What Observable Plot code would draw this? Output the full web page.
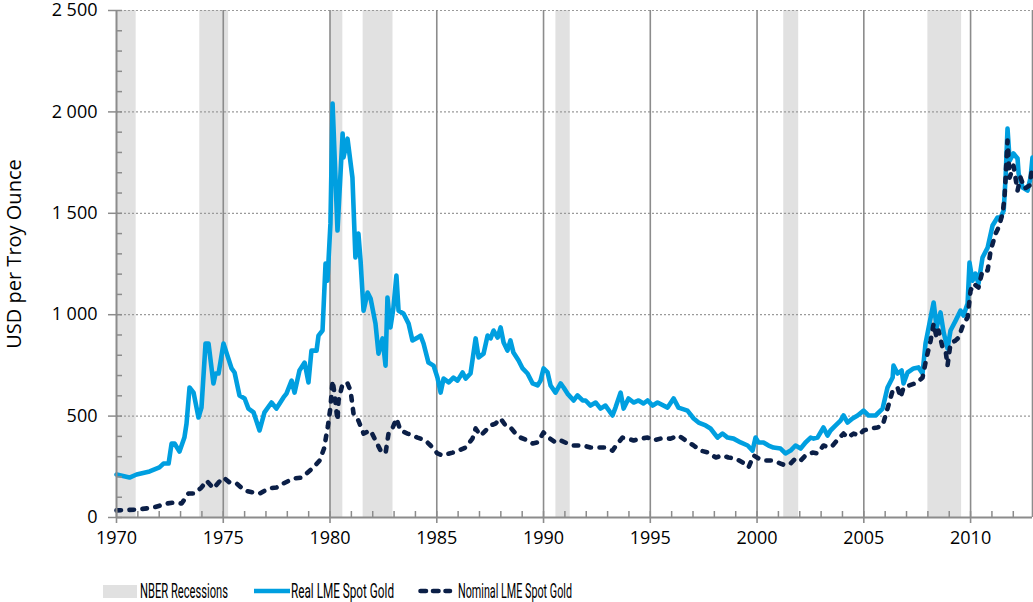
<!DOCTYPE html>
<html>
<head>
<meta charset="utf-8">
<script src="https://cdn.jsdelivr.net/npm/d3@7"></script>
<script src="https://cdn.jsdelivr.net/npm/@observablehq/plot@0.6"></script>
<style>
  html, body { margin: 0; padding: 0; background: #fff; }
  #wrap { position: relative; width: 1033px; height: 602px; overflow: hidden; }
  #legend { position: absolute; left: 0; top: 570px; width: 1033px; height: 32px; }
</style>
</head>
<body>
<div id="wrap">
  <div id="chart"></div>
  <div id="legend"></div>
</div>
<script>
// ---- data ----
const xMin = 1970, xMax = 2012.9;
const yTicks = [0, 500, 1000, 1500, 2000, 2500];
const yMinor = d3.range(0, 2501, 100);
const xTicks = [1970, 1975, 1980, 1985, 1990, 1995, 2000, 2005, 2010];
const xMinor = d3.range(1970, 2013, 1);
const xGrid = [1975, 1980, 1985, 1990, 1995, 2000, 2005, 2010];
const yGrid = [500, 1000, 1500, 2000, 2500];

const recessionStart = [1970.0, 1973.9, 1980.0, 1981.55, 1990.58, 2001.25, 2008.0];
const recessionEnd   = [1970.92, 1975.25, 1980.6, 1982.95, 1991.25, 2001.95, 2009.58];

const realYears = [1970.00,1970.61,1970.94,1971.55,1972.01,1972.20,1972.44,1972.58,1972.72,1972.95,1973.18,1973.28,1973.42,1973.61,1973.84,1973.98,1974.17,1974.31,1974.54,1974.64,1974.78,1975.01,1975.15,1975.39,1975.53,1975.76,1976.00,1976.18,1976.42,1976.70,1976.93,1977.26,1977.49,1977.82,1977.96,1978.20,1978.34,1978.57,1978.81,1978.99,1979.13,1979.37,1979.46,1979.65,1979.79,1979.88,1980.02,1980.12,1980.35,1980.59,1980.63,1980.82,1981.05,1981.19,1981.33,1981.43,1981.57,1981.76,1981.90,1982.13,1982.27,1982.46,1982.60,1982.69,1982.83,1982.97,1983.11,1983.21,1983.44,1983.68,1983.86,1984.10,1984.24,1984.38,1984.61,1984.85,1985.03,1985.18,1985.32,1985.56,1985.78,1985.97,1986.21,1986.35,1986.58,1986.82,1986.96,1987.19,1987.38,1987.52,1987.66,1987.85,1987.99,1988.13,1988.31,1988.45,1988.59,1988.83,1989.02,1989.25,1989.49,1989.72,1989.86,1990.00,1990.19,1990.33,1990.56,1990.80,1990.94,1991.12,1991.41,1991.59,1991.83,1991.97,1992.20,1992.44,1992.67,1992.90,1993.23,1993.37,1993.61,1993.75,1993.98,1994.22,1994.45,1994.68,1994.87,1995.11,1995.34,1995.81,1996.09,1996.32,1996.74,1997.03,1997.26,1997.59,1997.82,1998.15,1998.38,1998.62,1998.90,1999.23,1999.56,1999.79,1999.93,2000.07,2000.30,2000.54,2000.77,2001.10,2001.33,2001.57,2001.80,2002.04,2002.27,2002.51,2002.65,2002.83,2003.11,2003.30,2003.44,2003.68,2003.91,2004.05,2004.24,2004.47,2004.71,2004.99,2005.22,2005.55,2005.88,2006.11,2006.35,2006.39,2006.58,2006.77,2006.86,2007.05,2007.33,2007.56,2007.75,2007.89,2008.13,2008.27,2008.41,2008.59,2008.74,2008.92,2009.06,2009.30,2009.53,2009.67,2009.86,2009.95,2010.09,2010.23,2010.37,2010.56,2010.80,2011.03,2011.26,2011.41,2011.55,2011.64,2011.73,2011.83,2012.01,2012.20,2012.25,2012.44,2012.67,2012.81,2012.90];
const realValues = [212,197,212,227,247,266,266,365,365,325,394,463,641,616,493,542,858,858,661,710,710,858,813,735,715,602,587,537,518,429,518,567,537,592,611,675,616,725,764,666,823,823,897,922,1252,1168,1449,2041,1415,1893,1775,1868,1676,1282,1400,1267,1020,1109,1080,956,808,883,749,1085,937,1035,1193,1020,1006,956,873,887,897,858,764,749,690,616,685,666,690,675,715,685,710,883,789,808,897,883,922,887,937,863,823,873,813,774,735,710,661,651,675,735,715,651,616,661,641,611,577,602,577,577,552,567,537,552,503,542,616,537,587,567,577,562,577,552,567,542,587,542,527,488,468,454,439,394,414,394,389,370,355,330,394,370,370,355,345,340,316,330,355,340,370,394,389,394,444,404,429,454,478,503,468,488,503,527,503,503,537,641,690,749,710,725,661,715,735,740,710,858,986,1060,937,1011,912,833,922,971,1020,996,1055,1257,1168,1203,1153,1282,1331,1440,1479,1479,1514,1676,1918,1760,1795,1770,1696,1627,1612,1676,1775];

const nomYears = [1970.00,1970.94,1971.73,1972.35,1972.72,1973.05,1973.37,1973.65,1973.98,1974.22,1974.54,1974.78,1975.01,1975.29,1975.62,1976.00,1976.42,1976.70,1977.12,1977.49,1977.82,1978.29,1978.67,1978.90,1979.23,1979.51,1979.72,1979.90,1980.02,1980.12,1980.21,1980.35,1980.40,1980.59,1980.82,1980.96,1981.10,1981.33,1981.57,1981.90,1982.13,1982.37,1982.60,1982.74,1982.92,1983.11,1983.30,1983.63,1984.10,1984.47,1984.71,1985.03,1985.27,1985.74,1986.02,1986.35,1986.67,1986.82,1987.05,1987.29,1987.52,1987.75,1987.99,1988.22,1988.45,1988.69,1988.92,1989.25,1989.49,1989.72,1990.00,1990.24,1990.56,1990.80,1991.12,1991.41,1991.87,1992.20,1992.67,1992.90,1993.23,1993.47,1993.70,1993.94,1994.22,1994.55,1994.87,1995.15,1995.48,1995.95,1996.33,1996.65,1997.03,1997.35,1997.73,1998.06,1998.38,1998.66,1998.99,1999.33,1999.60,1999.84,2000.07,2000.40,2000.73,2001.10,2001.33,2001.57,2001.80,2002.04,2002.27,2002.60,2002.83,2003.11,2003.35,2003.54,2003.82,2004.05,2004.24,2004.52,2004.75,2004.99,2005.32,2005.64,2005.88,2006.11,2006.35,2006.58,2006.72,2006.86,2007.12,2007.52,2007.75,2007.94,2008.13,2008.27,2008.41,2008.50,2008.69,2008.83,2008.92,2009.06,2009.30,2009.44,2009.67,2009.86,2010.00,2010.14,2010.37,2010.56,2010.80,2010.94,2011.17,2011.31,2011.50,2011.59,2011.73,2011.83,2012.01,2012.20,2012.34,2012.53,2012.76,2012.90];
const nomValues = [35,39,49,69,74,69,118,118,148,182,143,173,197,173,168,133,123,118,143,148,168,192,197,217,247,281,340,450,542,675,611,478,577,661,661,626,513,478,414,429,380,330,316,414,439,488,429,414,394,380,355,316,306,320,330,345,389,439,404,429,454,463,488,454,444,414,394,380,365,370,419,394,370,380,365,355,355,345,345,345,330,365,394,389,380,389,394,380,389,389,404,380,355,330,320,296,306,296,291,271,247,306,291,281,281,266,257,266,291,281,306,320,316,355,345,355,389,414,394,414,404,429,439,444,454,537,626,641,592,641,651,666,690,789,873,956,887,922,838,823,749,858,873,887,956,986,1119,1153,1134,1218,1218,1316,1400,1430,1499,1578,1859,1676,1735,1612,1676,1622,1637,1735];

const seriesNames = ["NBER Recessions", "Real LME Spot Gold", "Nominal LME Spot Gold"];
const yLabel = "USD per Troy Ounce";

// ---- build tables ----
const recessions = recessionStart.map((s, i) => ({start: s, end: recessionEnd[i]}));
const real = realYears.map((x, i) => ({year: x, value: realValues[i]}));
const nominal = nomYears.map((x, i) => ({year: x, value: nomValues[i]}));

const locale = d3.formatLocale({decimal: ".", thousands: "\u00a0", grouping: [3], currency: ["", ""]});
const fmt = locale.format(",");

const BLUE = "#009fe0", NAVY = "#0b1f47", GRID = "#8c8c8c", BAND = "#e1e1e1";
const FONT = "'Open Sans', 'Noto Sans', sans-serif";
const LW = 4.6, DASH = "4.5,8.5";

const chart = Plot.plot({
  width: 1033,
  height: 570,
  marginLeft: 116,
  marginRight: 1,
  marginTop: 10,
  marginBottom: 53,
  style: {fontFamily: FONT, fontSize: "18px", color: "#000", background: "#fff", overflow: "visible"},
  x: {domain: [xMin, xMax], axis: null},
  y: {domain: [0, 2500], axis: null},
  marks: [
    Plot.rect(recessions, {x1: "start", x2: "end", y1: 0, y2: 2500, fill: BAND}),
    Plot.ruleY(yGrid, {stroke: "#9a9a9a", strokeWidth: 1.2, strokeDasharray: "2,2"}),
    Plot.ruleX(xGrid, {stroke: GRID, strokeWidth: 1.6}),
    Plot.ruleX([xMax], {stroke: GRID, strokeWidth: 1.6}),
    Plot.line(real, {x: "year", y: "value", stroke: BLUE, strokeWidth: LW, strokeLinejoin: "round"}),
    Plot.line(nominal, {x: "year", y: "value", stroke: NAVY, strokeWidth: LW, strokeDasharray: DASH, strokeLinecap: "round", strokeLinejoin: "round"}),
    Plot.axisY({ticks: yMinor, tickSize: -6, tickFormat: () => "", label: null, stroke: GRID, strokeWidth: 1.5}),
    Plot.axisY({ticks: yTicks, tickSize: 8, tickPadding: 11, tickFormat: fmt, label: null, stroke: GRID, strokeWidth: 1.5, fontSize: 18, fill: "#000"}),
    Plot.axisX({ticks: xMinor, tickSize: -6, tickFormat: () => "", label: null, stroke: GRID, strokeWidth: 1.5}),
    Plot.axisX({ticks: xTicks, tickSize: 6, tickPadding: 8, tickFormat: d => String(d), label: null, stroke: GRID, strokeWidth: 1.6, fontSize: 18, fill: "#000"}),
    Plot.ruleY([0], {stroke: GRID, strokeWidth: 2}),
    Plot.ruleX([xMin], {stroke: GRID, strokeWidth: 2}),
    Plot.text([yLabel], {text: d => d, frameAnchor: "left", textAnchor: "middle", rotate: -90, dx: -102, dy: -10, fontSize: 20, fill: "#000"})
  ]
});
document.getElementById("chart").appendChild(chart);

// ---- legend (below the plot SVG) ----
const legendItems = [
  {x: 103, w: 34, textX: 140, textW: 88},
  {x: 254, w: 36, textX: 291, textW: 103},
  {x: 418, w: 32, textX: 458, textW: 114}
];
const lg = d3.select("#legend").append("svg").attr("width", 1033).attr("height", 32)
  .style("font-family", "'Roboto', 'Open Sans', sans-serif").style("font-size", "20.5px");
const cy = 21;
lg.append("rect").attr("x", legendItems[0].x).attr("y", cy - 6).attr("width", legendItems[0].w).attr("height", 13).attr("fill", BAND);
lg.append("line").attr("x1", legendItems[1].x).attr("x2", legendItems[1].x + legendItems[1].w).attr("y1", cy).attr("y2", cy)
  .attr("stroke", BLUE).attr("stroke-width", LW);
lg.append("line").attr("x1", legendItems[2].x + 2.5).attr("x2", legendItems[2].x + legendItems[2].w).attr("y1", cy).attr("y2", cy)
  .attr("stroke", NAVY).attr("stroke-width", LW).attr("stroke-dasharray", "5.5,7").attr("stroke-linecap", "round");
seriesNames.forEach((name, i) => {
  lg.append("text").attr("x", legendItems[i].textX).attr("y", cy).attr("dy", "0.35em")
    .attr("textLength", legendItems[i].textW).attr("lengthAdjust", "spacingAndGlyphs")
    .attr("fill", "#000").text(name);
});
</script>
</body>
</html>
